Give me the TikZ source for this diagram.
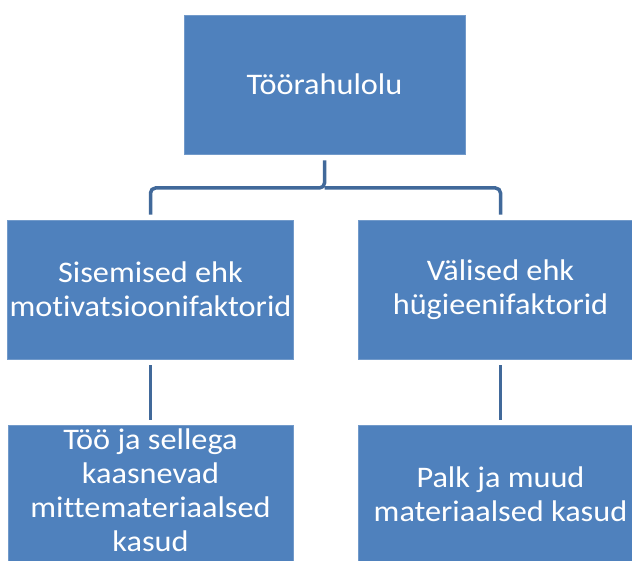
\documentclass[tikz,border=0pt]{standalone}
\usepackage{fontspec}
\setmainfont[FakeStretch=1.08,Ligatures=NoCommon]{Carlito}
\definecolor{boxblue}{HTML}{4F81BD}
\definecolor{connblue}{HTML}{41699A}
\tikzset{
  orgbox/.style={rectangle, fill=boxblue, draw=boxblue!80!white, line width=0.6bp, text=white, align=center,
    minimum width=285bp, minimum height=139bp, inner sep=2bp,
    font=\fontsize{30}{34}\selectfont},
  boxtext/.style={text=white, align=center, inner sep=0bp, font=\fontsize{30}{34}\selectfont},
  conn/.style={draw=connblue, line width=3.5bp, rounded corners=5bp}
}
\begin{document}
\begin{tikzpicture}[x=1bp,y=-1bp]
\useasboundingbox (0,0) rectangle (632,561);
\clip (0,0) rectangle (632,561);
\node[orgbox, minimum width=281bp] (top) at (324.5,84.5) {Töörahulolu};
\node[orgbox] (left) at (150.5,289.5) {Sisemised ehk\\motivatsioonifaktorid};
\node[orgbox] (right) at (500.5,289.5) {Välised ehk\\hügieenifaktorid};
\node[orgbox] (bl) at (150.5,494.5) {};
\node[boxtext] (bltext) at ([yshift=4bp]bl.center) {Töö ja sellega\\kaasnevad\\mittemateriaalsed\\kasud};
\node[orgbox] (br) at (500.5,494.5) {Palk ja muud\\materiaalsed kasud};
\coordinate (mid) at (324.5,188);
\draw[conn] ([yshift=-6bp]top.south) -- (mid) -| ([yshift=5bp]left.north);
\draw[conn] (mid) -| ([yshift=5bp]right.north);
\draw[conn] ([yshift=-6bp]left.south) -- ([yshift=5bp]bl.north);
\draw[conn] ([yshift=-6bp]right.south) -- ([yshift=5bp]br.north);
\end{tikzpicture}
\end{document}
